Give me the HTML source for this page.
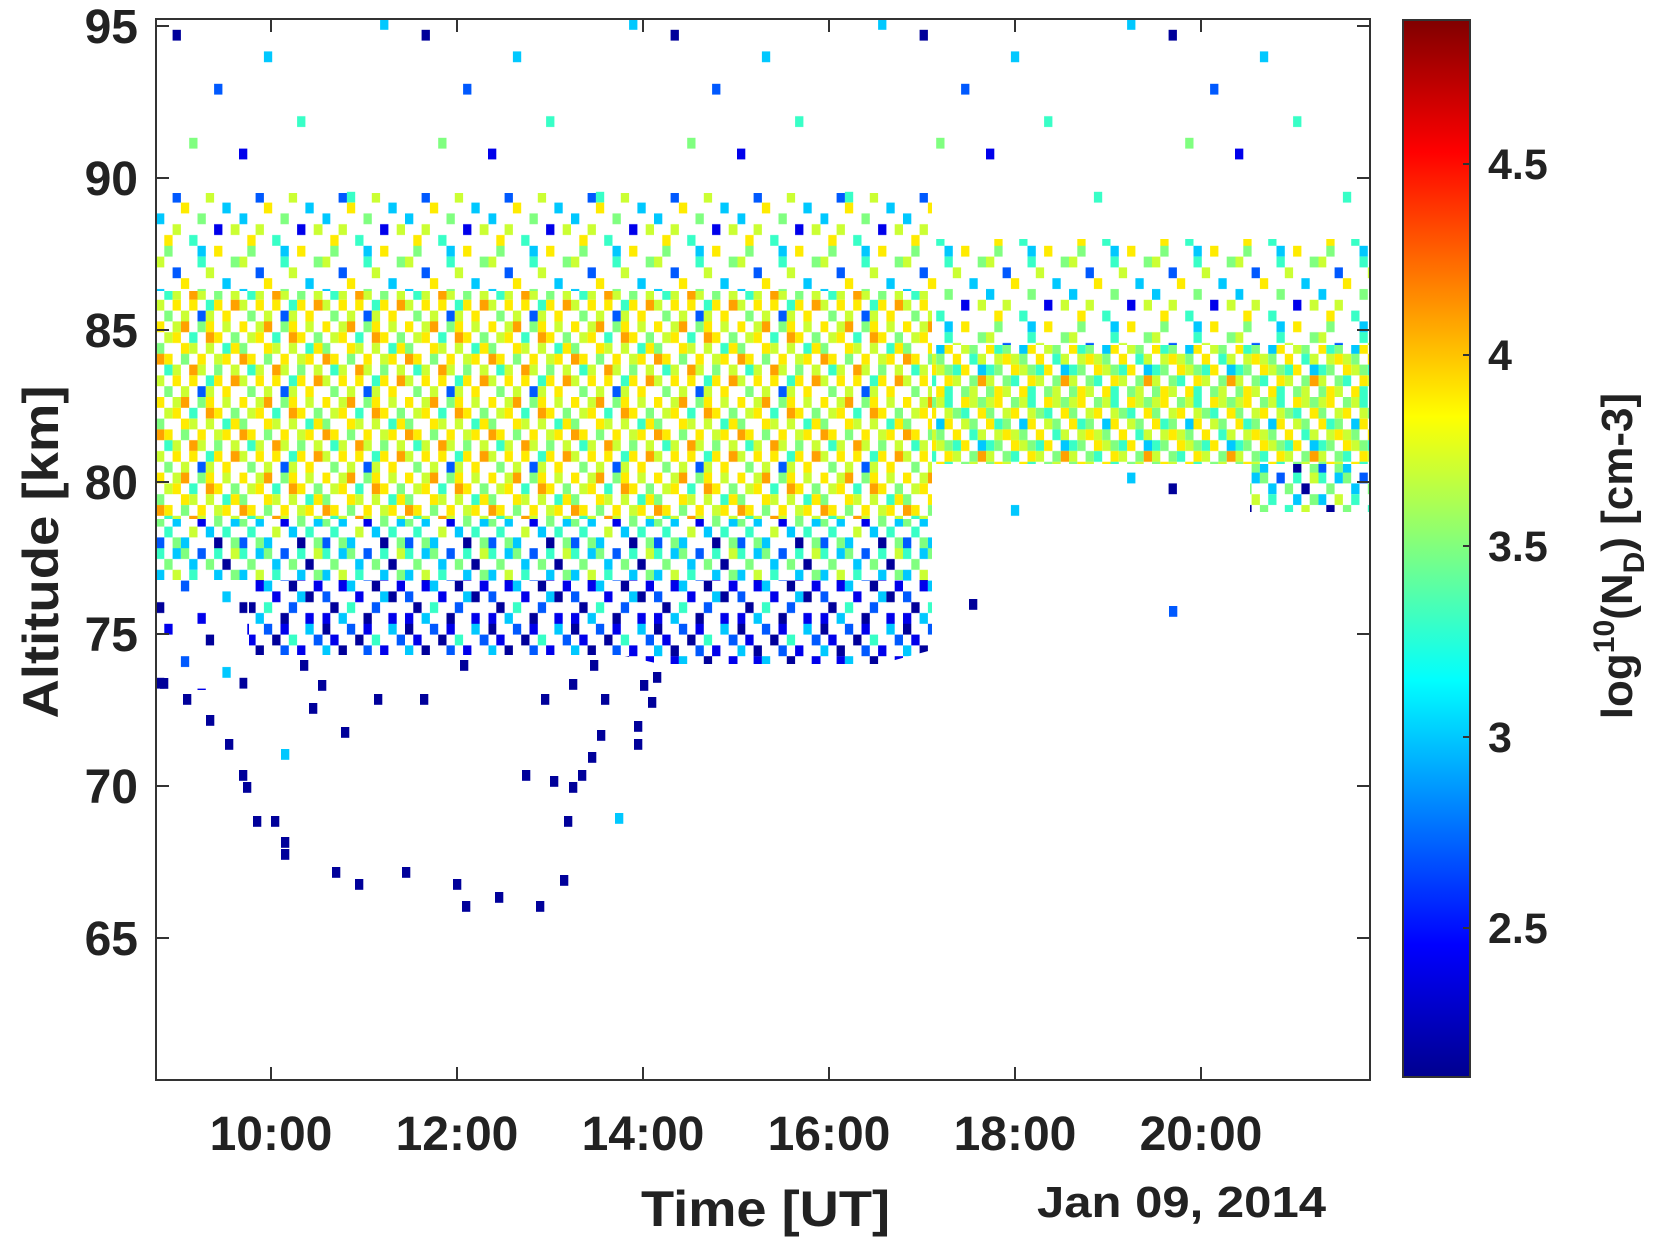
<!DOCTYPE html>
<html><head><meta charset="utf-8"><style>html,body{margin:0;padding:0;background:#fff}svg{display:block}</style></head>
<body>
<svg width="1668" height="1245" xmlns="http://www.w3.org/2000/svg" font-family="Liberation Sans, Arial, sans-serif" font-weight="bold" fill="#222">
<defs>
<linearGradient id="jet" x1="0" y1="1" x2="0" y2="0">
<stop offset="0" stop-color="#00008F"/><stop offset="0.125" stop-color="#0000FF"/><stop offset="0.375" stop-color="#00FFFF"/><stop offset="0.625" stop-color="#FFFF00"/><stop offset="0.875" stop-color="#FF0000"/><stop offset="1" stop-color="#800000"/>
</linearGradient>
<pattern id="pA" patternUnits="userSpaceOnUse" x="156" y="19" width="83" height="75.6">
<g>
<rect x="0" y="0" width="8.3" height="10.8" fill="#ffeb00"/><rect x="16.6" y="0" width="8.3" height="10.8" fill="#cbff33"/><rect x="24.9" y="0" width="8.3" height="10.8" fill="#ffa100"/><rect x="41.5" y="0" width="8.3" height="10.8" fill="#80ff80"/><rect x="49.8" y="0" width="8.3" height="10.8" fill="#ffeb00"/><rect x="66.4" y="0" width="8.3" height="10.8" fill="#cbff33"/>
<rect x="8.3" y="10.8" width="8.3" height="10.8" fill="#cbff33"/><rect x="16.6" y="10.8" width="8.3" height="10.8" fill="#ffeb00"/><rect x="33.2" y="10.8" width="8.3" height="10.8" fill="#38ffc7"/><rect x="49.8" y="10.8" width="8.3" height="10.8" fill="#ffa100"/><rect x="58.1" y="10.8" width="8.3" height="10.8" fill="#ffeb00"/><rect x="74.7" y="10.8" width="8.3" height="10.8" fill="#80ff80"/>
<rect x="0" y="21.6" width="8.3" height="10.8" fill="#80ff80"/><rect x="24.9" y="21.6" width="8.3" height="10.8" fill="#ffeb00"/><rect x="33.2" y="21.6" width="8.3" height="10.8" fill="#cbff33"/><rect x="49.8" y="21.6" width="8.3" height="10.8" fill="#cbff33"/><rect x="66.4" y="21.6" width="8.3" height="10.8" fill="#38ffc7"/><rect x="74.7" y="21.6" width="8.3" height="10.8" fill="#ffeb00"/>
<rect x="0" y="32.4" width="8.3" height="10.8" fill="#ffa100"/><rect x="8.3" y="32.4" width="8.3" height="10.8" fill="#ffeb00"/><rect x="24.9" y="32.4" width="8.3" height="10.8" fill="#80ff80"/><rect x="41.5" y="32.4" width="8.3" height="10.8" fill="#ffeb00"/><rect x="58.1" y="32.4" width="8.3" height="10.8" fill="#cbff33"/><rect x="66.4" y="32.4" width="8.3" height="10.8" fill="#ffeb00"/>
<rect x="8.3" y="43.2" width="8.3" height="10.8" fill="#38ffc7"/><rect x="16.6" y="43.2" width="8.3" height="10.8" fill="#cbff33"/><rect x="33.2" y="43.2" width="8.3" height="10.8" fill="#ffa100"/><rect x="41.5" y="43.2" width="8.3" height="10.8" fill="#cbff33"/><rect x="58.1" y="43.2" width="8.3" height="10.8" fill="#80ff80"/><rect x="74.7" y="43.2" width="8.3" height="10.8" fill="#cbff33"/>
<rect x="0" y="54" width="8.3" height="10.8" fill="#cbff33"/><rect x="16.6" y="54" width="8.3" height="10.8" fill="#ffeb00"/><rect x="33.2" y="54" width="8.3" height="10.8" fill="#ffeb00"/><rect x="49.8" y="54" width="8.3" height="10.8" fill="#38ffc7"/><rect x="58.1" y="54" width="8.3" height="10.8" fill="#ffeb00"/><rect x="74.7" y="54" width="8.3" height="10.8" fill="#ffa100"/>
<rect x="8.3" y="64.8" width="8.3" height="10.8" fill="#80ff80"/><rect x="24.9" y="64.8" width="8.3" height="10.8" fill="#cbff33"/><rect x="41.5" y="64.8" width="8.3" height="10.8" fill="#0059ff"/><rect x="49.8" y="64.8" width="8.3" height="10.8" fill="#cbff33"/><rect x="66.4" y="64.8" width="8.3" height="10.8" fill="#ffeb00"/>
</g></pattern>
<pattern id="pB" patternUnits="userSpaceOnUse" x="156" y="19" width="83" height="75.6">
<rect x="0" y="0" width="8.3" height="10.8" fill="#00009a"/><rect x="24.9" y="0" width="8.3" height="10.8" fill="#0059ff"/><rect x="41.5" y="0" width="8.3" height="10.8" fill="#0000eb"/><rect x="66.4" y="0" width="8.3" height="10.8" fill="#00c8ff"/>
<rect x="8.3" y="10.8" width="8.3" height="10.8" fill="#0000eb"/><rect x="33.2" y="10.8" width="8.3" height="10.8" fill="#00009a"/><rect x="49.8" y="10.8" width="8.3" height="10.8" fill="#38ffc7"/><rect x="74.7" y="10.8" width="8.3" height="10.8" fill="#0059ff"/>
<rect x="0" y="21.6" width="8.3" height="10.8" fill="#00c8ff"/><rect x="16.6" y="21.6" width="8.3" height="10.8" fill="#00009a"/><rect x="41.5" y="21.6" width="8.3" height="10.8" fill="#0059ff"/><rect x="58.1" y="21.6" width="8.3" height="10.8" fill="#0000eb"/>
<rect x="16.6" y="32.4" width="8.3" height="10.8" fill="#0000eb"/><rect x="24.9" y="32.4" width="8.3" height="10.8" fill="#00c8ff"/><rect x="49.8" y="32.4" width="8.3" height="10.8" fill="#00009a"/><rect x="74.7" y="32.4" width="8.3" height="10.8" fill="#0000eb"/>
<rect x="0" y="43.2" width="8.3" height="10.8" fill="#0059ff"/><rect x="33.2" y="43.2" width="8.3" height="10.8" fill="#0000eb"/><rect x="58.1" y="43.2" width="8.3" height="10.8" fill="#00c8ff"/><rect x="66.4" y="43.2" width="8.3" height="10.8" fill="#00009a"/>
<rect x="8.3" y="54" width="8.3" height="10.8" fill="#00009a"/><rect x="24.9" y="54" width="8.3" height="10.8" fill="#38ffc7"/><rect x="49.8" y="54" width="8.3" height="10.8" fill="#0059ff"/>
<rect x="0" y="64.8" width="8.3" height="10.8" fill="#0000eb"/><rect x="16.6" y="64.8" width="8.3" height="10.8" fill="#00c8ff"/><rect x="41.5" y="64.8" width="8.3" height="10.8" fill="#00009a"/><rect x="66.4" y="64.8" width="8.3" height="10.8" fill="#0000eb"/>
</pattern>
<pattern id="pB1" patternUnits="userSpaceOnUse" x="156" y="19" width="83" height="75.6">
<rect x="0" y="0" width="8.3" height="10.8" fill="#38ffc7"/><rect x="16.6" y="0" width="8.3" height="10.8" fill="#00c8ff"/><rect x="24.9" y="0" width="8.3" height="10.8" fill="#80ff80"/><rect x="41.5" y="0" width="8.3" height="10.8" fill="#0059ff"/><rect x="58.1" y="0" width="8.3" height="10.8" fill="#38ffc7"/><rect x="74.7" y="0" width="8.3" height="10.8" fill="#cbff33"/>
<rect x="8.3" y="10.8" width="8.3" height="10.8" fill="#80ff80"/><rect x="33.2" y="10.8" width="8.3" height="10.8" fill="#00c8ff"/><rect x="49.8" y="10.8" width="8.3" height="10.8" fill="#80ff80"/><rect x="66.4" y="10.8" width="8.3" height="10.8" fill="#00009a"/>
<rect x="0" y="21.6" width="8.3" height="10.8" fill="#00c8ff"/><rect x="16.6" y="21.6" width="8.3" height="10.8" fill="#cbff33"/><rect x="33.2" y="21.6" width="8.3" height="10.8" fill="#38ffc7"/><rect x="58.1" y="21.6" width="8.3" height="10.8" fill="#00c8ff"/><rect x="74.7" y="21.6" width="8.3" height="10.8" fill="#80ff80"/>
<rect x="8.3" y="32.4" width="8.3" height="10.8" fill="#00009a"/><rect x="24.9" y="32.4" width="8.3" height="10.8" fill="#80ff80"/><rect x="49.8" y="32.4" width="8.3" height="10.8" fill="#38ffc7"/><rect x="66.4" y="32.4" width="8.3" height="10.8" fill="#cbff33"/>
<rect x="0" y="43.2" width="8.3" height="10.8" fill="#80ff80"/><rect x="16.6" y="43.2" width="8.3" height="10.8" fill="#00c8ff"/><rect x="41.5" y="43.2" width="8.3" height="10.8" fill="#0000eb"/><rect x="58.1" y="43.2" width="8.3" height="10.8" fill="#80ff80"/><rect x="74.7" y="43.2" width="8.3" height="10.8" fill="#00c8ff"/>
<rect x="8.3" y="54" width="8.3" height="10.8" fill="#38ffc7"/><rect x="33.2" y="54" width="8.3" height="10.8" fill="#cbff33"/><rect x="49.8" y="54" width="8.3" height="10.8" fill="#00c8ff"/><rect x="66.4" y="54" width="8.3" height="10.8" fill="#38ffc7"/>
<rect x="0" y="64.8" width="8.3" height="10.8" fill="#0059ff"/><rect x="16.6" y="64.8" width="8.3" height="10.8" fill="#80ff80"/><rect x="24.9" y="64.8" width="8.3" height="10.8" fill="#00c8ff"/><rect x="58.1" y="64.8" width="8.3" height="10.8" fill="#00009a"/><rect x="74.7" y="64.8" width="8.3" height="10.8" fill="#80ff80"/>
</pattern>
<pattern id="pD" patternUnits="userSpaceOnUse" x="156" y="19" width="83" height="75.6">
<rect x="0" y="0" width="8.3" height="10.8" fill="#cbff33"/><rect x="8.3" y="0" width="8.3" height="10.8" fill="#ffeb00"/><rect x="24.9" y="0" width="8.3" height="10.8" fill="#80ff80"/><rect x="33.2" y="0" width="8.3" height="10.8" fill="#cbff33"/><rect x="41.5" y="0" width="8.3" height="10.8" fill="#38ffc7"/><rect x="58.1" y="0" width="8.3" height="10.8" fill="#ffeb00"/><rect x="66.4" y="0" width="8.3" height="10.8" fill="#cbff33"/><rect x="74.7" y="0" width="8.3" height="10.8" fill="#80ff80"/>
<rect x="0" y="10.8" width="8.3" height="10.8" fill="#80ff80"/><rect x="16.6" y="10.8" width="8.3" height="10.8" fill="#cbff33"/><rect x="24.9" y="10.8" width="8.3" height="10.8" fill="#ffeb00"/><rect x="41.5" y="10.8" width="8.3" height="10.8" fill="#cbff33"/><rect x="49.8" y="10.8" width="8.3" height="10.8" fill="#80ff80"/><rect x="58.1" y="10.8" width="8.3" height="10.8" fill="#38ffc7"/><rect x="74.7" y="10.8" width="8.3" height="10.8" fill="#ffeb00"/>
<rect x="0" y="21.6" width="8.3" height="10.8" fill="#ffeb00"/><rect x="8.3" y="21.6" width="8.3" height="10.8" fill="#38ffc7"/><rect x="16.6" y="21.6" width="8.3" height="10.8" fill="#80ff80"/><rect x="33.2" y="21.6" width="8.3" height="10.8" fill="#00c8ff"/><rect x="41.5" y="21.6" width="8.3" height="10.8" fill="#ffeb00"/><rect x="58.1" y="21.6" width="8.3" height="10.8" fill="#cbff33"/><rect x="66.4" y="21.6" width="8.3" height="10.8" fill="#80ff80"/>
<rect x="8.3" y="32.4" width="8.3" height="10.8" fill="#cbff33"/><rect x="16.6" y="32.4" width="8.3" height="10.8" fill="#ffeb00"/><rect x="24.9" y="32.4" width="8.3" height="10.8" fill="#cbff33"/><rect x="33.2" y="32.4" width="8.3" height="10.8" fill="#80ff80"/><rect x="49.8" y="32.4" width="8.3" height="10.8" fill="#ffeb00"/><rect x="66.4" y="32.4" width="8.3" height="10.8" fill="#38ffc7"/><rect x="74.7" y="32.4" width="8.3" height="10.8" fill="#cbff33"/>
<rect x="0" y="43.2" width="8.3" height="10.8" fill="#38ffc7"/><rect x="8.3" y="43.2" width="8.3" height="10.8" fill="#80ff80"/><rect x="24.9" y="43.2" width="8.3" height="10.8" fill="#ffeb00"/><rect x="33.2" y="43.2" width="8.3" height="10.8" fill="#cbff33"/><rect x="41.5" y="43.2" width="8.3" height="10.8" fill="#80ff80"/><rect x="49.8" y="43.2" width="8.3" height="10.8" fill="#38ffc7"/><rect x="58.1" y="43.2" width="8.3" height="10.8" fill="#ffeb00"/><rect x="74.7" y="43.2" width="8.3" height="10.8" fill="#00c8ff"/>
<rect x="0" y="54" width="8.3" height="10.8" fill="#cbff33"/><rect x="16.6" y="54" width="8.3" height="10.8" fill="#80ff80"/><rect x="24.9" y="54" width="8.3" height="10.8" fill="#38ffc7"/><rect x="41.5" y="54" width="8.3" height="10.8" fill="#ffeb00"/><rect x="49.8" y="54" width="8.3" height="10.8" fill="#cbff33"/><rect x="66.4" y="54" width="8.3" height="10.8" fill="#80ff80"/><rect x="74.7" y="54" width="8.3" height="10.8" fill="#ffa100"/>
<rect x="0" y="64.8" width="8.3" height="10.8" fill="#80ff80"/><rect x="8.3" y="64.8" width="8.3" height="10.8" fill="#ffeb00"/><rect x="16.6" y="64.8" width="8.3" height="10.8" fill="#cbff33"/><rect x="33.2" y="64.8" width="8.3" height="10.8" fill="#ffeb00"/><rect x="41.5" y="64.8" width="8.3" height="10.8" fill="#38ffc7"/><rect x="58.1" y="64.8" width="8.3" height="10.8" fill="#80ff80"/><rect x="66.4" y="64.8" width="8.3" height="10.8" fill="#cbff33"/>
</pattern>
<pattern id="pC2" patternUnits="userSpaceOnUse" x="156" y="19" width="83" height="75.6">
<rect x="8.3" y="0" width="8.3" height="10.8" fill="#80ff80"/><rect x="41.5" y="0" width="8.3" height="10.8" fill="#00c8ff"/><rect x="58.1" y="0" width="8.3" height="10.8" fill="#ffeb00"/>
<rect x="0" y="10.8" width="8.3" height="10.8" fill="#cbff33"/><rect x="41.5" y="10.8" width="8.3" height="10.8" fill="#38ffc7"/><rect x="74.7" y="10.8" width="8.3" height="10.8" fill="#80ff80"/>
<rect x="16.6" y="21.6" width="8.3" height="10.8" fill="#0059ff"/><rect x="49.8" y="21.6" width="8.3" height="10.8" fill="#cbff33"/>
<rect x="24.9" y="32.4" width="8.3" height="10.8" fill="#ffeb00"/><rect x="66.4" y="32.4" width="8.3" height="10.8" fill="#00c8ff"/>
<rect x="0" y="43.2" width="8.3" height="10.8" fill="#00c8ff"/><rect x="41.5" y="43.2" width="8.3" height="10.8" fill="#80ff80"/>
<rect x="16.6" y="54" width="8.3" height="10.8" fill="#cbff33"/><rect x="58.1" y="54" width="8.3" height="10.8" fill="#0000eb"/><rect x="74.7" y="54" width="8.3" height="10.8" fill="#cbff33"/>
<rect x="8.3" y="64.8" width="8.3" height="10.8" fill="#ffeb00"/><rect x="33.2" y="64.8" width="8.3" height="10.8" fill="#38ffc7"/>
</pattern>
<pattern id="pC" patternUnits="userSpaceOnUse" x="156" y="19" width="249" height="226.8">
<rect x="16.6" y="10.8" width="8.3" height="10.8" fill="#00009a"/><rect x="107.9" y="32.4" width="8.3" height="10.8" fill="#00c8ff"/><rect x="58.1" y="64.8" width="8.3" height="10.8" fill="#0059ff"/><rect x="141.1" y="97.2" width="8.3" height="10.8" fill="#38ffc7"/><rect x="33.2" y="118.8" width="8.3" height="10.8" fill="#80ff80"/><rect x="83" y="129.6" width="8.3" height="10.8" fill="#0000eb"/><rect x="224.1" y="0" width="8.3" height="10.8" fill="#00c8ff"/><rect x="190.9" y="172.8" width="8.3" height="10.8" fill="#38ffc7"/>
</pattern>
<pattern id="pL" patternUnits="userSpaceOnUse" x="156" y="19" width="83" height="75.6">
<rect x="8.3" y="0" width="8.3" height="10.8" fill="#0000eb"/><rect x="49.8" y="10.8" width="8.3" height="10.8" fill="#00009a"/><rect x="24.9" y="32.4" width="8.3" height="10.8" fill="#0059ff"/><rect x="66.4" y="43.2" width="8.3" height="10.8" fill="#00c8ff"/><rect x="0" y="54" width="8.3" height="10.8" fill="#00009a"/><rect x="41.5" y="64.8" width="8.3" height="10.8" fill="#0000eb"/>
</pattern>
</defs>

<rect x="156" y="19" width="1214" height="200" fill="url(#pC)"/>
<rect x="156" y="193" width="776" height="98" fill="url(#pC2)"/>
<rect x="156" y="291" width="776" height="228" fill="url(#pA)"/>
<rect x="156" y="519" width="776" height="61" fill="url(#pB1)"/>
<polygon points="249,580 932,580 932,650 880,664 660,664 620,655 249,655" fill="url(#pB)"/>
<rect x="156" y="580" width="93" height="110" fill="url(#pL)"/>
<rect x="932" y="239" width="438" height="106" fill="url(#pC2)"/>
<rect x="932" y="345" width="438" height="119" fill="url(#pD)"/>
<rect x="1250" y="464" width="120" height="48" fill="url(#pB1)"/>
<rect x="932" y="464" width="318" height="70" fill="url(#pC)"/>

<g fill="#00009a">
<rect x="160" y="678" width="8.3" height="10.8"/><rect x="183" y="694" width="8.3" height="10.8"/><rect x="206" y="715" width="8.3" height="10.8"/><rect x="225" y="739" width="8.3" height="10.8"/><rect x="239" y="770" width="8.3" height="10.8"/><rect x="243" y="782" width="8.3" height="10.8"/><rect x="253" y="816" width="8.3" height="10.8"/><rect x="271" y="816" width="8.3" height="10.8"/><rect x="281" y="837" width="8.3" height="10.8"/><rect x="281" y="849" width="8.3" height="10.8"/><rect x="332" y="867" width="8.3" height="10.8"/><rect x="355" y="879" width="8.3" height="10.8"/><rect x="402" y="867" width="8.3" height="10.8"/><rect x="453" y="879" width="8.3" height="10.8"/><rect x="462" y="901" width="8.3" height="10.8"/><rect x="495" y="892" width="8.3" height="10.8"/><rect x="536" y="901" width="8.3" height="10.8"/><rect x="560" y="875" width="8.3" height="10.8"/><rect x="564" y="816" width="8.3" height="10.8"/><rect x="569" y="782" width="8.3" height="10.8"/><rect x="578" y="770" width="8.3" height="10.8"/><rect x="588" y="752" width="8.3" height="10.8"/><rect x="597" y="730" width="8.3" height="10.8"/><rect x="601" y="694" width="8.3" height="10.8"/><rect x="634" y="721" width="8.3" height="10.8"/><rect x="634" y="739" width="8.3" height="10.8"/><rect x="648" y="697" width="8.3" height="10.8"/><rect x="653" y="672" width="8.3" height="10.8"/><rect x="309" y="703" width="8.3" height="10.8"/><rect x="341" y="727" width="8.3" height="10.8"/><rect x="374" y="694" width="8.3" height="10.8"/><rect x="420" y="694" width="8.3" height="10.8"/><rect x="522" y="770" width="8.3" height="10.8"/><rect x="541" y="694" width="8.3" height="10.8"/><rect x="550" y="776" width="8.3" height="10.8"/><rect x="569" y="679" width="8.3" height="10.8"/><rect x="969" y="599" width="8.3" height="10.8"/>
<rect x="300" y="660" width="8.3" height="10.8"/><rect x="318" y="680" width="8.3" height="10.8"/><rect x="460" y="660" width="8.3" height="10.8"/><rect x="590" y="660" width="8.3" height="10.8"/><rect x="640" y="680" width="8.3" height="10.8"/>
</g>
<rect x="281" y="749" width="8.3" height="10.8" fill="#00c8ff"/><rect x="615" y="813" width="8.3" height="10.8" fill="#00c8ff"/><rect x="1169" y="606" width="8.3" height="10.8" fill="#0059ff"/>

<rect x="156" y="19" width="1214" height="1061" fill="none" stroke="#333" stroke-width="2"/>
<g stroke="#333" stroke-width="2">
<line x1="156" y1="26" x2="169" y2="26"/><line x1="156" y1="178" x2="169" y2="178"/><line x1="156" y1="330" x2="169" y2="330"/><line x1="156" y1="482" x2="169" y2="482"/><line x1="156" y1="634" x2="169" y2="634"/><line x1="156" y1="786" x2="169" y2="786"/><line x1="156" y1="938" x2="169" y2="938"/>
<line x1="1357" y1="26" x2="1370" y2="26"/><line x1="1357" y1="178" x2="1370" y2="178"/><line x1="1357" y1="330" x2="1370" y2="330"/><line x1="1357" y1="482" x2="1370" y2="482"/><line x1="1357" y1="634" x2="1370" y2="634"/><line x1="1357" y1="786" x2="1370" y2="786"/><line x1="1357" y1="938" x2="1370" y2="938"/>
<line x1="271" y1="1080" x2="271" y2="1067"/><line x1="457" y1="1080" x2="457" y2="1067"/><line x1="643" y1="1080" x2="643" y2="1067"/><line x1="829" y1="1080" x2="829" y2="1067"/><line x1="1015" y1="1080" x2="1015" y2="1067"/><line x1="1201" y1="1080" x2="1201" y2="1067"/>
<line x1="271" y1="19" x2="271" y2="32"/><line x1="457" y1="19" x2="457" y2="32"/><line x1="643" y1="19" x2="643" y2="32"/><line x1="829" y1="19" x2="829" y2="32"/><line x1="1015" y1="19" x2="1015" y2="32"/><line x1="1201" y1="19" x2="1201" y2="32"/>
</g>
<g font-size="48" text-anchor="end">
<text x="138" y="43">95</text><text x="138" y="195">90</text><text x="138" y="347">85</text><text x="138" y="499">80</text><text x="138" y="651">75</text><text x="138" y="803">70</text><text x="138" y="955">65</text>
</g>
<g font-size="48" text-anchor="middle">
<text x="271" y="1150">10:00</text><text x="457" y="1150">12:00</text><text x="643" y="1150">14:00</text><text x="829" y="1150">16:00</text><text x="1015" y="1150">18:00</text><text x="1201" y="1150">20:00</text>
</g>
<text x="641" y="1226" font-size="50" textLength="249" lengthAdjust="spacingAndGlyphs">Time [UT]</text>
<text x="1037" y="1217" font-size="44" textLength="289" lengthAdjust="spacingAndGlyphs">Jan 09, 2014</text>
<text transform="translate(58,552) rotate(-90)" text-anchor="middle" font-size="50" textLength="333" lengthAdjust="spacingAndGlyphs">Altitude [km]</text>
<rect x="1403" y="20" width="67" height="1057" fill="url(#jet)" stroke="#333" stroke-width="2"/>
<g stroke="#333" stroke-width="2">
<line x1="1463" y1="164" x2="1470" y2="164"/><line x1="1463" y1="355" x2="1470" y2="355"/><line x1="1463" y1="546" x2="1470" y2="546"/><line x1="1463" y1="737" x2="1470" y2="737"/><line x1="1463" y1="928" x2="1470" y2="928"/>
</g>
<g font-size="43">
<text x="1488" y="179">4.5</text><text x="1488" y="370">4</text><text x="1488" y="561">3.5</text><text x="1488" y="752">3</text><text x="1488" y="943">2.5</text>
</g>
<text transform="translate(1632,556) rotate(-90)" text-anchor="middle" font-size="44">log<tspan font-size="30" dy="-18">10</tspan><tspan dy="18">(N</tspan><tspan font-size="30" dy="12">D</tspan><tspan dy="-12">) [cm-3]</tspan></text>
</svg>
</body></html>
